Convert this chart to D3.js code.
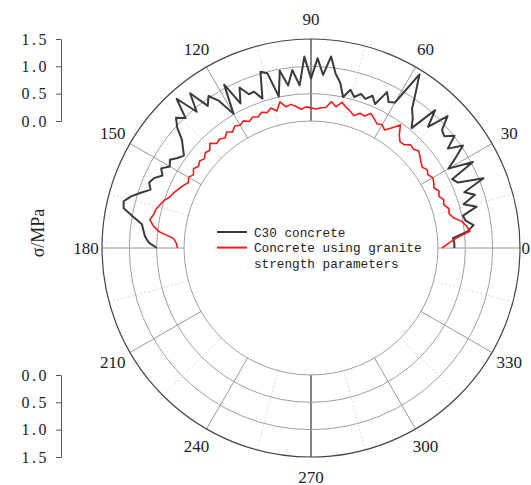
<!DOCTYPE html>
<html>
<head>
<meta charset="utf-8">
<script src="https://cdn.jsdelivr.net/npm/d3@7"></script>
<style>
  body { margin: 0; background: #fff; }
  svg { display: block; }
</style>
</head>
<body>
<div id="chart"></div>
<script>

// ### DATA
// angle in degrees, one sample every 2 degrees from 0 to 180
var angles = d3.range(0, 181, 2);

var c30 = [
  0.30, 0.30, 0.28, 0.55, 0.68, 0.55, 0.52, 0.80, 0.58, 0.83,
  0.66, 1.08, 0.62, 0.55, 1.03, 0.58, 0.80, 1.03, 0.77, 1.01,
  0.86, 0.90, 1.15, 0.76, 1.07, 0.54, 0.70, 0.82, 1.10, 1.42,
  0.75, 0.70, 0.85, 0.56, 0.68, 0.58, 0.64, 0.55, 0.66, 0.50,
  0.75, 0.90, 1.20, 0.85, 1.15, 0.78, 1.18, 0.66, 0.95, 0.68,
  0.97, 0.51, 0.97, 1.03, 0.55, 0.72, 0.71, 0.89, 0.62, 1.06,
  0.51, 0.85, 1.03, 0.89, 1.27, 0.93, 1.35, 0.98, 1.11, 0.97,
  0.76, 0.65, 0.55, 0.62, 0.72, 0.66, 0.78, 0.70, 0.82, 0.87,
  0.80, 0.95, 1.10, 1.21, 1.18, 0.98, 0.80, 0.76, 0.72, 0.65,
  0.50
];

var granite = [
  0.07, 0.20, 0.35, 0.60, 0.55, 0.48, 0.34, 0.28, 0.30, 0.23,
  0.26, 0.20, 0.24, 0.18, 0.22, 0.25, 0.20, 0.24, 0.19, 0.23,
  0.28, 0.33, 0.28, 0.30, 0.22, 0.21, 0.30, 0.46, 0.33, 0.22,
  0.28, 0.25, 0.31, 0.37, 0.28, 0.30, 0.22, 0.28, 0.33, 0.40,
  0.30, 0.38, 0.26, 0.25, 0.22, 0.24, 0.26, 0.22, 0.28, 0.33,
  0.30, 0.41, 0.26, 0.34, 0.28, 0.32, 0.26, 0.30, 0.25, 0.31,
  0.27, 0.31, 0.24, 0.30, 0.23, 0.28, 0.25, 0.34, 0.25, 0.28,
  0.22, 0.26, 0.22, 0.27, 0.21, 0.26, 0.22, 0.28, 0.33, 0.38,
  0.42, 0.50, 0.55, 0.60, 0.62, 0.67, 0.59, 0.46, 0.20, 0.14,
  0.12
];

var radialTicks = [0, 0.5, 1.0, 1.5];
var angleTicks = [0, 30, 60, 90, 120, 150, 180, 210, 240, 270, 300, 330];
var minorAngles = [15, 45, 75, 105, 135, 165, 195, 225, 255, 285, 315, 345];

var seriesNames = ["C30 concrete", "Concrete using granite", "strength parameters"];

// ### LAYOUT
var width = 531, height = 485;
var cx = 311, cy = 248;

var svg = d3.select("#chart").append("svg")
  .attr("width", width)
  .attr("height", height)
  .style("background", "#fff");

// radius for a stress value; 0.0 sits on the inner ring
var r = d3.scaleLinear().domain([0, 1.5]).range([127, 209]);
var rad = function(deg) { return deg * Math.PI / 180; };

var px = function(deg, v) { return cx + r(v) * Math.cos(rad(deg)); };
var py = function(deg, v) { return cy - r(v) * Math.sin(rad(deg)); };

var serif = "'Liberation Serif', 'Times New Roman', serif";

// ### GRID
var grid = svg.append("g");

grid.selectAll("line.minor")
  .data(minorAngles)
  .enter().append("line")
  .attr("class", "minor")
  .attr("x1", function(d) { return px(d, 0); })
  .attr("y1", function(d) { return py(d, 0); })
  .attr("x2", function(d) { return px(d, 1.5); })
  .attr("y2", function(d) { return py(d, 1.5); })
  .attr("stroke", "#d0d0d0")
  .attr("stroke-width", 0.8)
  .attr("stroke-dasharray", "2,2");

grid.selectAll("line.major")
  .data(angleTicks)
  .enter().append("line")
  .attr("class", "major")
  .attr("x1", function(d) { return px(d, 0); })
  .attr("y1", function(d) { return py(d, 0); })
  .attr("x2", function(d) { return px(d, 1.5); })
  .attr("y2", function(d) { return py(d, 1.5); })
  .attr("stroke", function(d) { return (d === 90 || d === 270) ? "#333" : "#9a9a9a"; })
  .attr("stroke-width", function(d) { return (d === 90 || d === 270) ? 1.2 : 1; });

grid.selectAll("circle")
  .data(radialTicks)
  .enter().append("circle")
  .attr("cx", cx)
  .attr("cy", cy)
  .attr("r", function(d) { return r(d); })
  .attr("fill", "none")
  .attr("stroke", function(d) { return d === 1.5 ? "#444" : "#a0a0a0"; })
  .attr("stroke-width", function(d) { return d === 1.5 ? 1.2 : 1; });

// angle labels ("0" is pushed against the right edge so it stays inside)
svg.selectAll("text.angle")
  .data(angleTicks)
  .enter().append("text")
  .attr("class", "angle")
  .attr("x", function(d) {
    if (d === 0) return width - 1;
    var R = d === 180 ? 225 : 229;
    return cx + R * Math.cos(rad(d));
  })
  .attr("y", function(d) { return cy - 229 * Math.sin(rad(d)); })
  .attr("text-anchor", function(d) { return d === 0 ? "end" : "middle"; })
  .attr("dominant-baseline", "central")
  .style("font-family", serif)
  .attr("font-size", 17)
  .attr("fill", "#222")
  .text(function(d) { return d; });

// ### CURVES
var line = d3.line()
  .x(function(d) { return px(d[0], d[1]); })
  .y(function(d) { return py(d[0], d[1]); });

svg.append("path")
  .datum(angles.map(function(a, i) { return [a, c30[i]]; }))
  .attr("d", line)
  .attr("fill", "none")
  .attr("stroke", "#3a3a3a")
  .attr("stroke-width", 2)
  .attr("stroke-linejoin", "round");

svg.append("path")
  .datum(angles.map(function(a, i) { return [a, granite[i]]; }))
  .attr("d", line)
  .attr("fill", "none")
  .attr("stroke", "#f21c1c")
  .attr("stroke-width", 1.6)
  .attr("stroke-linejoin", "round");

// ### RADIAL AXES (left side, top one goes up, bottom one goes down)
var yTop = d3.scaleLinear().domain([0, 1.5]).range([cy - r(0), cy - r(1.5)]);
var yBot = d3.scaleLinear().domain([0, 1.5]).range([cy + r(0), cy + r(1.5)]);

[yTop, yBot].forEach(function(sc) {
  var ax = svg.append("g")
    .attr("transform", "translate(61,0)")
    .call(d3.axisLeft(sc).tickValues(radialTicks).tickFormat(d3.format(".1f")).tickSize(5).tickSizeOuter(0));
  ax.select(".domain").attr("stroke", "#555");
  ax.selectAll(".tick line").attr("stroke", "#555");
  ax.selectAll(".tick text")
    .attr("x", -12)
    .style("font-family", serif)
    .attr("font-size", 16)
    .attr("letter-spacing", "2.5px")
    .attr("fill", "#222");
});

svg.append("text")
  .attr("transform", "translate(44,233) rotate(-90)")
  .attr("text-anchor", "middle")
  .style("font-family", serif)
  .attr("font-size", 18)
  .attr("fill", "#222")
  .text("σ/MPa");

// ### LEGEND
var legend = svg.append("g").attr("transform", "translate(217,232)");
var legendColors = ["#3a3a3a", "#f21c1c"];

legend.selectAll("line")
  .data(legendColors)
  .enter().append("line")
  .attr("x1", 0)
  .attr("x2", 30)
  .attr("y1", function(d, i) { return i * 15.6; })
  .attr("y2", function(d, i) { return i * 15.6; })
  .attr("stroke", function(d) { return d; })
  .attr("stroke-width", 2);

legend.selectAll("text")
  .data(seriesNames)
  .enter().append("text")
  .attr("x", 37)
  .attr("y", function(d, i) { return i * 15.8 + 4.5; })
  .style("font-family", "'Liberation Mono', 'Courier New', monospace")
  .attr("font-size", 12.7)
  .attr("fill", "#222")
  .text(function(d) { return d; });

</script>
</body>
</html>
